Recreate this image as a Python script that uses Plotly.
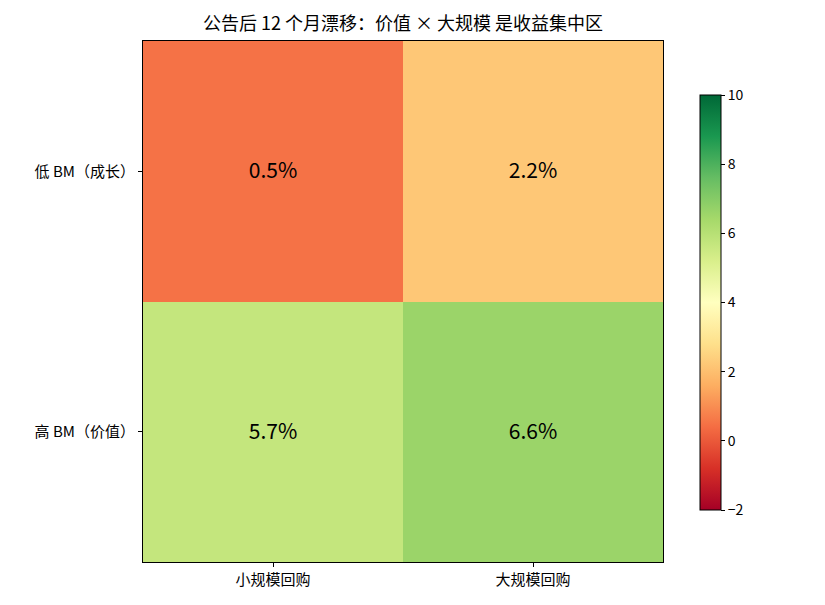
import plotly.graph_objects as go

x_labels = ["小规模回购", "大规模回购"]
y_labels = ["低 BM（成长）", "高 BM（价值）"]
values = [[0.5, 2.2], [5.7, 6.6]]
text_labels = [["0.5%", "2.2%"], ["5.7%", "6.6%"]]
title = "公告后 12 个月漂移：价值 × 大规模 是收益集中区"

FONT = "Noto Sans CJK SC, Noto Sans, sans-serif"

fig = go.Figure(go.Heatmap(
    z=values, x=x_labels, y=y_labels,
    text=text_labels, texttemplate="%{text}",
    textfont=dict(size=21, color="black", family=FONT),
    colorscale="RdYlGn", zmin=-2, zmax=10,
    xgap=0, ygap=0,
    colorbar=dict(
        x=(700 - 143) / 520, xanchor="left", xref="paper", xpad=0, ypad=0,
        y=(562 - 302.5) / 521, yanchor="middle",
        len=415 / 521, lenmode="fraction", thickness=21, thicknessmode="pixels",
        outlinecolor="black", outlinewidth=1,
        ticks="outside", ticklen=4, tickcolor="black",
        tickvals=[-2, 0, 2, 4, 6, 8, 10],
        tickfont=dict(size=14, color="black", family=FONT),
    ),
    hoverinfo="skip",
))

fig.update_layout(
    width=825, height=605,
    margin=dict(l=143, r=162, t=41, b=43),
    paper_bgcolor="white", plot_bgcolor="white",
    title=dict(text=title, x=403 / 825, xanchor="center", y=1 - 24 / 605, yanchor="middle",
               font=dict(size=18, color="black", family=FONT)),
    font=dict(family=FONT, color="black"),
)
fig.update_xaxes(showline=True, linecolor="black", linewidth=1, mirror=True,
                 ticks="outside", ticklen=4, tickcolor="black",
                 tickfont=dict(size=15, color="black"), showgrid=False, zeroline=False)
fig.update_yaxes(showline=True, linecolor="black", linewidth=1, mirror=True,
                 ticks="outside", ticklen=4, tickcolor="black", autorange="reversed",
                 tickfont=dict(size=15, color="black"), showgrid=False, zeroline=False)

fig.write_html("out.html")
